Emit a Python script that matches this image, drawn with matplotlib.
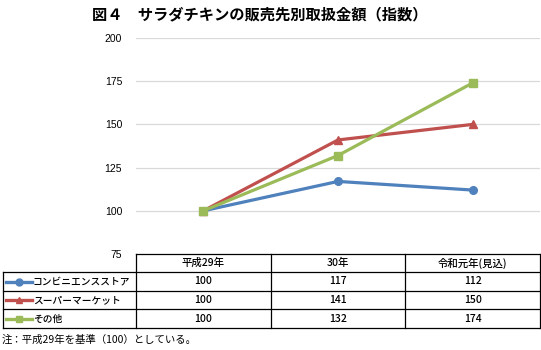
import matplotlib
matplotlib.use("Agg")
import matplotlib.pyplot as plt

plt.rcParams['font.family'] = ['Noto Sans CJK JP', 'DejaVu Sans']

title = "図４　サラダチキンの販売先別取扱金額（指数）"
categories = ["平成29年", "30年", "令和元年(見込)"]
series_names = ["コンビニエンスストア", "スーパーマーケット", "その他"]
conv = [100, 117, 112]
supa = [100, 141, 150]
other = [100, 132, 174]
series_values = [conv, supa, other]
colors = ["#4F81BD", "#C0504D", "#9BBB59"]
markers = ["o", "^", "s"]
yticks = [75, 100, 125, 150, 175, 200]
note = "注：平成29年を基準（100）としている。"

W, H = 541, 350
fig = plt.figure(figsize=(W / 100, H / 100), dpi=100)

# pixel layout
ax_l, ax_r, ax_t, ax_b = 136, 540, 38, 254
ax = fig.add_axes([ax_l / W, (H - ax_b) / H, (ax_r - ax_l) / W, (ax_b - ax_t) / H])
x = list(range(len(categories)))
for vals, c, m in zip(series_values, colors, markers):
    ax.plot(x, vals, color=c, lw=2.3, marker=m, ms=5.5, mec=c, mfc=c, zorder=3,
            solid_capstyle='round')
ax.set_xlim(-0.5, len(categories) - 0.5)
ax.set_ylim(75, 200)
ax.set_yticks(yticks)
ax.set_yticklabels([str(v) for v in yticks], fontsize=7.5, family='Liberation Sans')
ax.tick_params(axis='y', length=0, pad=10)
ax.set_xticks([])
for s in ax.spines.values():
    s.set_visible(False)
for v in yticks[1:]:
    ax.axhline(v, color="#D9D9D9", lw=0.9, zorder=1)

fig.text(0.48, 1 - 14 / H, title, ha='center', va='center', fontsize=11, fontweight='bold')

# table overlay in pixel coordinates
ov = fig.add_axes([0, 0, 1, 1])
ov.set_xlim(0, W)
ov.set_ylim(H, 0)
ov.axis('off')
ov.patch.set_alpha(0)

col_w = (ax_r - ax_l) / len(categories)
row_edges = [254, 272, 291, 309, 328]
tab_left = 3
lk = dict(color='black', lw=0.9)
ov.plot([ax_l, ax_r], [row_edges[0]] * 2, **lk)
for yy in row_edges[1:]:
    ov.plot([tab_left, ax_r], [yy] * 2, **lk)
ov.plot([tab_left, tab_left], [row_edges[1], row_edges[-1]], **lk)
for i in range(len(categories) + 1):
    xx = ax_l + i * col_w
    ov.plot([xx, xx], [row_edges[0], row_edges[-1]], **lk)

fs = 7.5
for i, cat in enumerate(categories):
    ov.text(ax_l + (i + 0.5) * col_w, (row_edges[0] + row_edges[1]) / 2, cat,
            ha='center', va='center', fontsize=fs, fontweight='medium')
for r, (name, vals, c, m) in enumerate(zip(series_names, series_values, colors, markers)):
    yc = (row_edges[r + 1] + row_edges[r + 2]) / 2
    ov.plot([6, 32], [yc, yc], color=c, lw=2.4)
    ov.plot([19], [yc], marker=m, color=c, ms=5)
    ov.text(33, yc, name, ha='left', va='center', fontsize=7, fontweight='medium')
    for i, v in enumerate(vals):
        ov.text(ax_l + (i + 0.5) * col_w, yc, str(v), ha='center', va='center',
                fontsize=fs, fontweight='medium')

ov.text(2, 340, note, ha='left', va='center', fontsize=7.5)

fig.savefig("out.png", dpi=100)
